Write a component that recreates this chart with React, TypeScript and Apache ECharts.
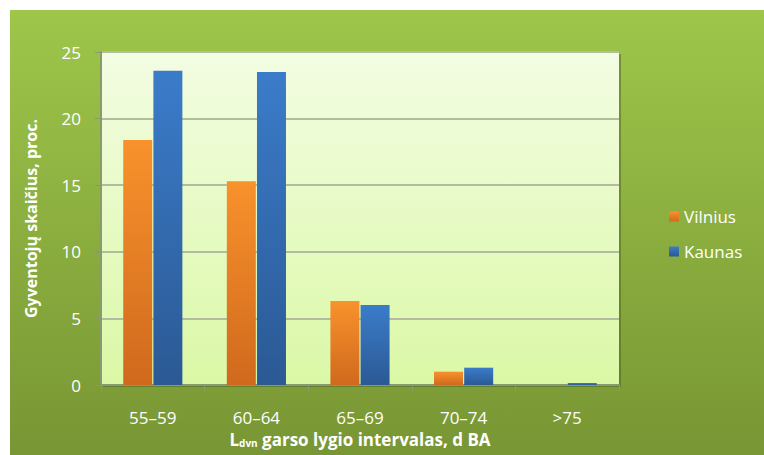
import React, { useEffect, useRef } from "react";
import * as echarts from "echarts";

const categories = ["55–59", "60–64", "65–69", "70–74", ">75"];
const vilnius = [18.4, 15.3, 6.3, 1.0, 0];
const kaunas = [23.6, 23.5, 6.0, 1.3, 0.15];
const seriesNames = ["Vilnius", "Kaunas"];
const yTicks = { min: 0, max: 25, interval: 5 };

const FONT = "'Liberation Sans Narrow', 'Open Sans', sans-serif";

export default function App() {
  const ref = useRef<HTMLDivElement>(null);
  useEffect(() => {
    if (!ref.current) return;
    const chart = echarts.init(ref.current, null, { renderer: "svg" });
    const orange = new echarts.graphic.LinearGradient(0, 0, 0, 1, [
      { offset: 0, color: "#f8922c" },
      { offset: 1, color: "#d0691d" },
    ]);
    const blue = new echarts.graphic.LinearGradient(0, 0, 0, 1, [
      { offset: 0, color: "#3b7cca" },
      { offset: 1, color: "#2b5994" },
    ]);
    chart.setOption({
      animation: false,
      backgroundColor: "#ffffff",
      graphic: [
        {
          type: "rect",
          z: -10,
          silent: true,
          shape: { x: 10, y: 10, width: 754, height: 445 },
          style: {
            fill: new echarts.graphic.LinearGradient(0, 0, 0, 1, [
              { offset: 0, color: "#9ec64a" },
              { offset: 1, color: "#789634" },
            ]),
          },
        },
        {
          type: "rect",
          z: -9,
          silent: true,
          shape: { x: 103, y: 54, width: 518, height: 333 },
          style: { fill: "rgba(70,90,30,0.45)" },
        },
        {
          type: "rect",
          z: -8,
          silent: true,
          shape: { x: 101, y: 52, width: 518, height: 333 },
          style: {
            fill: new echarts.graphic.LinearGradient(0, 0, 0, 1, [
              { offset: 0, color: "#f3fde3" },
              { offset: 1, color: "#dbf8a6" },
            ]),
          },
        },
      ],
      grid: { left: 101, top: 52, width: 518, height: 333, containLabel: false },
      legend: {
        orient: "vertical",
        left: 664,
        top: 203,
        itemWidth: 10,
        itemHeight: 10,
        itemGap: 18,
        icon: "rect",
        textStyle: { color: "#ffffff", fontSize: 17, fontFamily: FONT },
        data: seriesNames,
      },
      xAxis: {
        type: "category",
        data: categories,
        name: "{main|L}{sub|dvn}{main| garso lygio intervalas, d BA}",
        nameLocation: "middle",
        nameGap: 44,
        nameTextStyle: {
          rich: {
            main: { color: "#ffffff", fontSize: 17, fontWeight: "bold", fontFamily: FONT },
            sub: {
              color: "#ffffff",
              fontSize: 10,
              fontWeight: "bold",
              fontFamily: FONT,
              verticalAlign: "bottom",
              padding: [8, 0, 0, 0],
            },
          },
        },
        axisLine: { show: true, lineStyle: { color: "#8a9a70", width: 2 } },
        axisTick: { show: true, length: 6, lineStyle: { color: "#8a9a70", width: 1 } },
        axisLabel: {
          color: "#ffffff",
          fontSize: 17,
          fontFamily: FONT,
          margin: 24,
        },
      },
      yAxis: {
        type: "value",
        min: yTicks.min,
        max: yTicks.max,
        interval: yTicks.interval,
        name: "Gyventojų skaičius, proc.",
        nameLocation: "middle",
        nameGap: 62,
        nameRotate: 90,
        nameTextStyle: { color: "#ffffff", fontSize: 16, fontWeight: "bold", fontFamily: FONT },
        axisLine: { show: true, lineStyle: { color: "#8a9a70", width: 2 } },
        axisTick: { show: true, length: 6, lineStyle: { color: "#8a9a70", width: 1 } },
        axisLabel: { color: "#ffffff", fontSize: 17, fontFamily: FONT, margin: 20 },
        splitLine: { show: true, lineStyle: { color: "#b4bca0", width: 2 } },
      },
      series: [
        {
          name: seriesNames[0],
          type: "bar",
          data: vilnius,
          barWidth: 29,
          barGap: "4%",
          itemStyle: { color: orange, borderWidth: 0 },
        },
        {
          name: seriesNames[1],
          type: "bar",
          data: kaunas,
          barWidth: 29,
          itemStyle: { color: blue, borderWidth: 0 },
        },
      ],
    });
    return () => chart.dispose();
  }, []);
  return (
    <div
      ref={ref}
      style={{ position: "absolute", left: 0, top: 0, width: 764, height: 455 }}
    />
  );
}
